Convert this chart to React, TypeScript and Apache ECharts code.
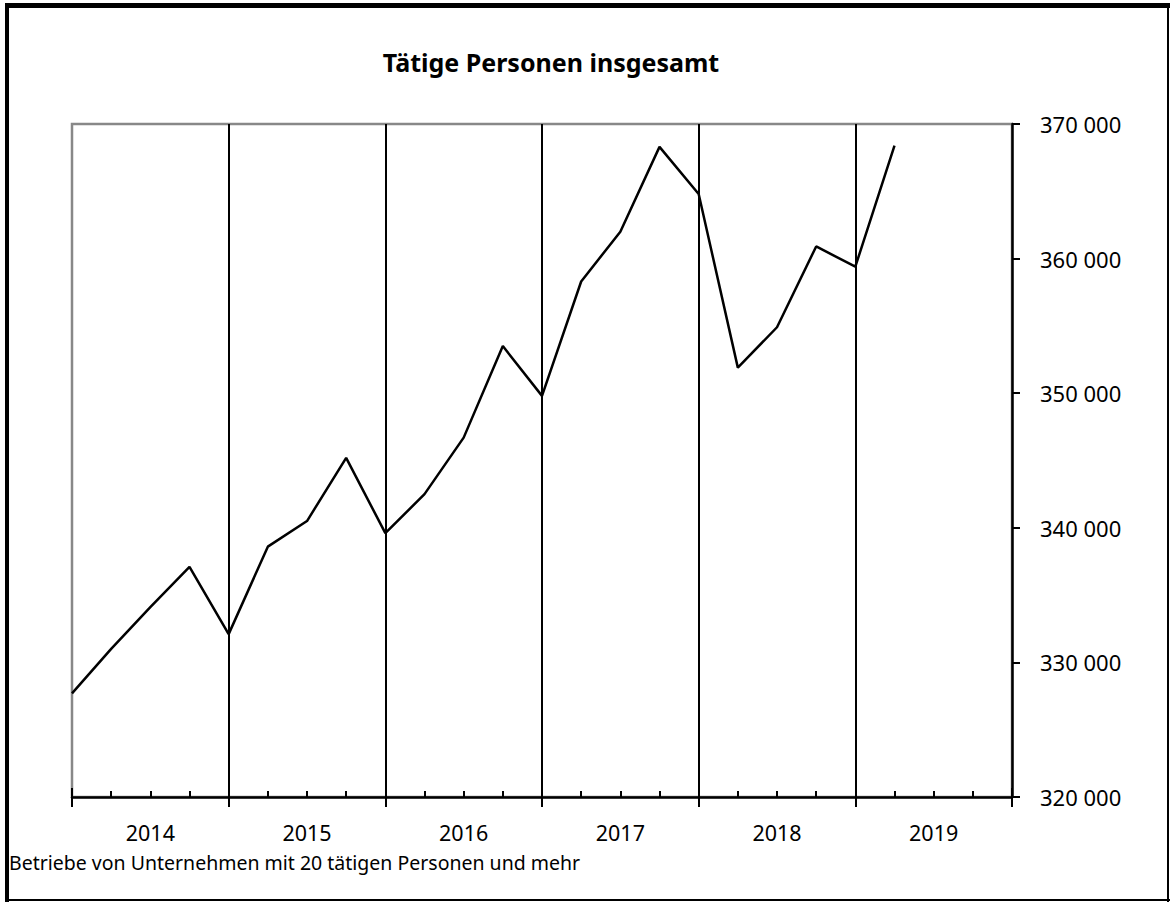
import React, { useEffect, useRef } from "react";
import * as echarts from "echarts";

const years = ["2014", "2015", "2016", "2017", "2018", "2019"];
const quarterIndex = [0, 1, 2, 3, 4, 5, 6, 7, 8, 9, 10, 11, 12, 13, 14, 15, 16, 17, 18, 19, 20, 21];
const values = [
  327700, 331000, 334100, 337100,
  332100, 338600, 340500, 345200,
  339600, 342500, 346700, 353500,
  349800, 358300, 362000, 368300,
  364800, 351900, 354900, 360900,
  359400, 368400,
];
const yMin = 320000;
const yMax = 370000;
const yStep = 10000;
const titleText = "Tätige Personen insgesamt";
const footText = "Betriebe von Unternehmen mit 20 tätigen Personen und mehr";

const FONT = "'Noto Sans', sans-serif";

export default function App() {
  const ref = useRef<HTMLDivElement>(null);
  useEffect(() => {
    document.body.style.margin = "0";
    const chart = echarts.init(ref.current!, null, { renderer: "svg" });
    const fmt = (v: number) => String(v).replace(/\B(?=(\d{3})+(?!\d))/g, " ");
    chart.setOption({
      animation: false,
      backgroundColor: "#fff",
      textStyle: { fontFamily: FONT },
      grid: {
        left: 72,
        right: 158,
        top: 124,
        bottom: 105,
        show: true,
        borderColor: "#888",
        borderWidth: 2.5,
      },
      xAxis: [
        {
          type: "value",
          min: 0,
          max: 24,
          interval: 1,
          position: "bottom",
          axisLine: { show: true, onZero: false, lineStyle: { color: "#000", width: 2.5 } },
          axisTick: { show: true, inside: true, length: 6, lineStyle: { color: "#000", width: 2 } },
          axisLabel: {
            show: true,
            margin: 24,
            fontSize: 21.5,
            color: "#000",
            fontFamily: FONT,
            formatter: (v: number) => (v % 4 === 2 ? years[(v - 2) / 4] : ""),
          },
          splitLine: { show: false },
        },
        {
          type: "value",
          min: 0,
          max: 24,
          interval: 4,
          position: "bottom",
          offset: -9,
          axisLine: { show: false, onZero: false },
          axisTick: { show: true, inside: false, length: 19, lineStyle: { color: "#000", width: 2 } },
          axisLabel: { show: false },
          splitLine: {
            show: true,
            showMinLine: false,
            showMaxLine: false,
            lineStyle: { color: "#000", width: 2 },
          },
        },
      ],
      yAxis: {
        type: "value",
        position: "right",
        min: yMin,
        max: yMax,
        interval: yStep,
        axisLine: { show: true, onZero: false, lineStyle: { color: "#000", width: 2.5 } },
        axisTick: { show: true, inside: false, length: 8, lineStyle: { color: "#000", width: 2 } },
        axisLabel: { margin: 28, fontSize: 22, color: "#000", fontFamily: FONT, formatter: fmt },
        splitLine: { show: false },
      },
      series: [
        {
          type: "line",
          xAxisIndex: 0,
          data: quarterIndex.map((q, i) => [q, values[i]]),
          showSymbol: false,
          symbol: "none",
          lineStyle: { color: "#000", width: 2.5 },
          z: 5,
        },
      ],
      graphic: [
        { type: "rect", shape: { x: 5, y: 3, width: 4, height: 899 }, style: { fill: "#000" }, silent: true },
        { type: "rect", shape: { x: 5, y: 3, width: 1165, height: 5 }, style: { fill: "#000" }, silent: true },
        { type: "rect", shape: { x: 1167, y: 3, width: 2, height: 899 }, style: { fill: "#000" }, silent: true },
        { type: "rect", shape: { x: 5, y: 899, width: 1165, height: 2 }, style: { fill: "#000" }, silent: true },
        {
          type: "text",
          x: 551,
          y: 62,
          style: {
            text: titleText,
            fill: "#000",
            font: `bold 25px ${FONT}`,
            textAlign: "center",
            textVerticalAlign: "middle",
          },
        },
        {
          type: "text",
          x: 9,
          y: 862,
          style: {
            text: footText,
            fill: "#000",
            font: `19.5px ${FONT}`,
            textAlign: "left",
            textVerticalAlign: "middle",
          },
        },
      ],
    });
    return () => chart.dispose();
  }, []);
  return <div ref={ref} style={{ width: 1170, height: 902 }} />;
}
